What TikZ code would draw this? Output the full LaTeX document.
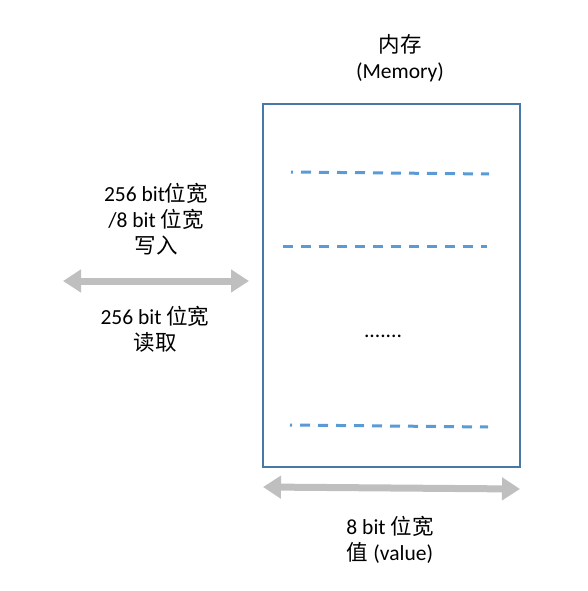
\documentclass[tikz,border=0pt]{standalone}
\usepackage{fontspec}
\setmainfont{Carlito}
\newfontfamily\cjk{Noto Sans CJK SC}
\newcommand{\zh}[1]{{\cjk #1}}
\usetikzlibrary{arrows.meta}
\definecolor{boxblue}{HTML}{4A76A8}
\definecolor{dashblue}{HTML}{5B9BD5}
\definecolor{arrowgray}{HTML}{BFBFBF}
\tikzset{
  label text/.style={align=center,font=\fontsize{21.5}{26}\selectfont,inner sep=0pt},
  row line/.style={dashblue,line width=3pt,dash pattern=on 10pt off 8pt},
  wide arrow/.style={arrowgray,line width=7pt,{Triangle[length=18pt,width=22pt]}-{Triangle[length=18pt,width=22pt]}}
}
\begin{document}
\begin{tikzpicture}[x=1pt,y=-1pt]
  \useasboundingbox (0,0) rectangle (587,591);
  \node[draw=boxblue,line width=1.3pt,minimum width=257pt,minimum height=363pt,inner sep=0pt]
    (mem) at (391.5,285.5) {};
  \node[label text] (title) at (400,58) {\zh{内存}\\(Memory)};
  \node[label text] (write) at (156,219) {256 bit\zh{位宽}\\/8 bit \zh{位宽}\\\zh{写入}};
  \node[label text] (read) at (155,329) {256 bit \zh{位宽}\\\zh{读取}};
  \node[label text] (dots) at (383,336) {.......};
  \node[label text] (width) at (390,540) {8 bit \zh{位宽}\\\zh{值} (value)};
  % rows inside the memory
  \coordinate (r1a) at (291,172);
  \coordinate (r1b) at (489,174);
  \coordinate (r2a) at (283,246);
  \coordinate (r2b) at (487,246);
  \coordinate (r3a) at (290,425);
  \coordinate (r3b) at (488,427);
  \begin{scope}[row line]
    \draw[dash phase=8pt] (r1a) -- (r1b);
    \draw (r2a) -- (r2b);
    \draw[dash phase=8pt] (r3a) -- (r3b);
  \end{scope}
  % arrows
  \coordinate (busl) at (63,281);
  \coordinate (busr) at (249,281);
  \coordinate (vall) at (263,487);
  \coordinate (valr) at (520,489);
  \draw[wide arrow] (busl) -- (busr);
  \draw[wide arrow] (vall) -- (valr);
\end{tikzpicture}
\end{document}
